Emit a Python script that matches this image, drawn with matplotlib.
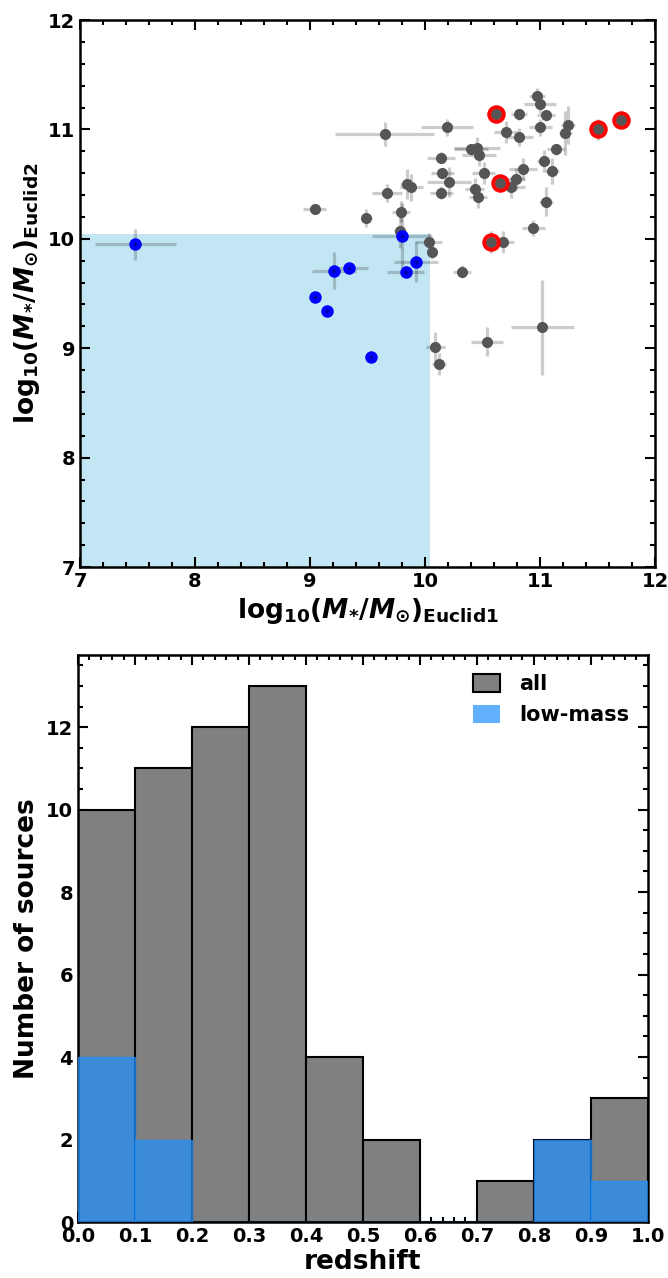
import numpy as np
import matplotlib
matplotlib.use("Agg")
import matplotlib.pyplot as plt
from matplotlib.patches import Patch
from matplotlib.ticker import MultipleLocator

plt.rcParams['font.family'] = ['DejaVu Sans']
plt.rcParams['font.weight'] = 'bold'
plt.rcParams['mathtext.fontset'] = 'custom'
plt.rcParams['mathtext.rm'] = 'DejaVu Sans:bold'
plt.rcParams['mathtext.it'] = 'DejaVu Sans:bold:italic'
plt.rcParams['mathtext.bf'] = 'DejaVu Sans:bold'

# stellar masses, all sources (log10 Msun)
m1_all = [9.04, 9.49, 9.65, 9.67, 9.79, 9.78, 9.84, 9.88, 10.03, 10.06,
          10.14, 10.15, 10.14, 10.19, 10.21, 10.32, 10.09, 10.12, 10.40, 10.45,
          10.47, 10.43, 10.46, 10.51, 10.54, 10.68, 10.70, 10.82, 10.82, 10.75,
          10.79, 10.85, 10.94, 10.97, 11.00, 11.05, 11.00, 11.03, 11.05, 11.02,
          11.10, 11.14, 11.24, 11.22]
m2_all = [10.27, 10.19, 10.96, 10.42, 10.25, 10.07, 10.50, 10.47, 9.97, 9.88,
          10.74, 10.60, 10.42, 11.02, 10.52, 9.70, 9.01, 8.86, 10.82, 10.83,
          10.77, 10.46, 10.38, 10.60, 9.06, 9.97, 10.98, 11.14, 10.93, 10.47,
          10.55, 10.64, 10.10, 11.31, 11.23, 11.13, 11.02, 10.71, 10.34, 9.19,
          10.62, 10.82, 11.04, 10.97]
m1_err = [0.10, 0.05, 0.43, 0.13, 0.08, 0.05, 0.06, 0.10, 0.12, 0.04,
          0.12, 0.10, 0.10, 0.23, 0.19, 0.08, 0.08, 0.06, 0.15, 0.20,
          0.15, 0.08, 0.08, 0.10, 0.14, 0.09, 0.10, 0.07, 0.12, 0.12,
          0.08, 0.12, 0.10, 0.07, 0.14, 0.08, 0.10, 0.06, 0.06, 0.27,
          0.06, 0.08, 0.06, 0.06]
m2_err = [0.04, 0.08, 0.11, 0.08, 0.10, 0.15, 0.14, 0.12, 0.08, 0.06,
          0.05, 0.05, 0.06, 0.08, 0.14, 0.06, 0.14, 0.10, 0.05, 0.10,
          0.10, 0.10, 0.10, 0.10, 0.13, 0.10, 0.10, 0.05, 0.08, 0.10,
          0.10, 0.10, 0.07, 0.07, 0.08, 0.05, 0.08, 0.10, 0.13, 0.43,
          0.12, 0.05, 0.17, 0.20]

# highlighted (red ring) sources
m1_red = [10.62, 10.65, 10.57, 11.50, 11.70]
m2_red = [11.14, 10.51, 9.97, 11.00, 11.09]
m1_red_err = [0.05, 0.05, 0.04, 0.07, 0.05]
m2_red_err = [0.05, 0.07, 0.10, 0.10, 0.05]

# low-mass sources
m1_low = [7.48, 9.04, 9.15, 9.21, 9.34, 9.53, 9.80, 9.83, 9.92]
m2_low = [9.95, 9.47, 9.34, 9.71, 9.73, 8.92, 10.03, 9.70, 9.79]
m1_low_err = [0.35, 0.03, 0.03, 0.19, 0.16, 0.03, 0.26, 0.16, 0.19]
m2_low_err = [0.14, 0.03, 0.03, 0.17, 0.04, 0.03, 0.30, 0.05, 0.18]

mass_cut = 10.04

# redshift histogram
z_edges = [0.0, 0.1, 0.2, 0.3, 0.4, 0.5, 0.6, 0.7, 0.8, 0.9, 1.0]
n_all = [10, 11, 12, 13, 4, 2, 0, 1, 2, 3]
n_low = [4, 2, 0, 0, 0, 0, 0, 0, 2, 1]


def style_axis(ax):
    ax.tick_params(which='both', direction='in', top=True, right=True,
                   labelsize=14, width=1.5)
    ax.tick_params(which='major', length=7)
    ax.tick_params(which='minor', length=3.5)
    for s in ax.spines.values():
        s.set_linewidth(1.8)
    for lab in ax.get_xticklabels() + ax.get_yticklabels():
        lab.set_fontweight('bold')


fig = plt.figure(figsize=(6.68, 12.78), dpi=100)

# mass-mass plot
ax1 = fig.add_axes([0.1198, 0.5563, 0.861, 0.428])
ax1.fill_between([7, mass_cut], 7, mass_cut, color='skyblue', alpha=0.5, lw=0)

ax1.errorbar(m1_all, m2_all, xerr=m1_err, yerr=m2_err, fmt='none',
             ecolor='k', elinewidth=2.3, alpha=0.2, zorder=2)
ax1.errorbar(m1_red, m2_red, xerr=m1_red_err, yerr=m2_red_err, fmt='none',
             ecolor='k', elinewidth=2.3, alpha=0.2, zorder=2)
ax1.errorbar(m1_low, m2_low, xerr=m1_low_err, yerr=m2_low_err, fmt='none',
             ecolor='k', elinewidth=2.3, alpha=0.2, zorder=2)

ax1.plot(m1_all, m2_all, 'o', color='#555555', ms=8, mew=0, zorder=3)
ax1.plot(m1_red, m2_red, 'o', color='#555555', ms=8, mew=0, zorder=3)
ax1.plot(m1_red, m2_red, 'o', mfc='none', mec='red', ms=10.5, mew=2.8, zorder=4)
ax1.plot(m1_low, m2_low, 'o', color='blue', ms=9, mew=0, zorder=4)
ax1.plot(m1_low, m2_low, 'o', color='#000070', ms=2, mew=0, zorder=5)

ax1.set_xlim(7, 12)
ax1.set_ylim(7, 12)
ax1.xaxis.set_major_locator(MultipleLocator(1))
ax1.xaxis.set_minor_locator(MultipleLocator(0.2))
ax1.yaxis.set_major_locator(MultipleLocator(1))
ax1.yaxis.set_minor_locator(MultipleLocator(0.2))
ax1.set_xlabel(r'$\mathrm{log}_{10}(M_{*}/M_{\odot})_{\rm Euclid1}$', fontsize=19)
ax1.set_ylabel(r'$\mathrm{log}_{10}(M_{*}/M_{\odot})_{\rm Euclid2}$', fontsize=19)
style_axis(ax1)

# redshift histogram
ax2 = fig.add_axes([0.1168, 0.0438, 0.853, 0.4437])
left = np.array(z_edges[:-1])
width = np.diff(z_edges)
ax2.bar(left, n_all, width=width, align='edge', color='gray',
        edgecolor='black', linewidth=1.5, zorder=2)
ax2.bar(left, n_low, width=width, align='edge', color='dodgerblue',
        edgecolor='dodgerblue', linewidth=1, alpha=0.7, zorder=3)

ax2.set_xlim(0, 1)
ax2.set_ylim(0, 13.75)
ax2.xaxis.set_major_locator(MultipleLocator(0.1))
ax2.xaxis.set_minor_locator(MultipleLocator(0.02))
ax2.yaxis.set_major_locator(MultipleLocator(2))
ax2.yaxis.set_minor_locator(MultipleLocator(0.5))
ax2.set_xlabel('redshift', fontsize=19, fontweight='bold', labelpad=2)
ax2.set_ylabel('Number of sources', fontsize=19, fontweight='bold')
style_axis(ax2)

handles = [Patch(facecolor='gray', edgecolor='black', linewidth=1.5, label='all'),
           Patch(facecolor='dodgerblue', alpha=0.7, label='low-mass')]
ax2.legend(handles=handles, loc='upper right', frameon=False,
           handlelength=1.3, handleheight=1.0, handletextpad=0.9,
           prop={'size': 15, 'weight': 'bold'})

fig.savefig('out.png', dpi=100)
